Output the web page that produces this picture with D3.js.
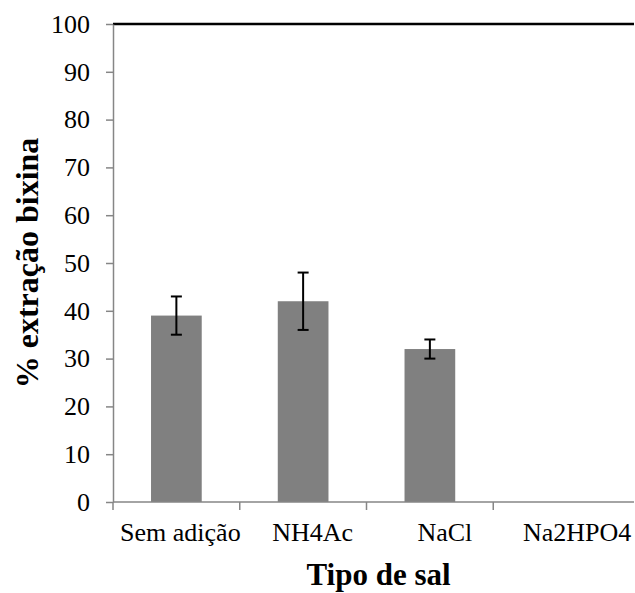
<!DOCTYPE html>
<html>
<head>
<meta charset="utf-8">
<script src="https://cdn.jsdelivr.net/npm/d3@7"></script>
<style>
  body { margin: 0; background: #fff; }
  text { font-family: "Liberation Serif", "Times New Roman", serif; }
</style>
</head>
<body>
<svg id="chart" width="635" height="593"></svg>
<script>
// data
var categories = ['Sem adição', 'NH4Ac', 'NaCl', 'Na2HPO4'];
var values = [39, 42, 32, 0];
var errors = [4, 6, 2, 0];
var yTicks = [0, 10, 20, 30, 40, 50, 60, 70, 80, 90, 100];

var svg = d3.select('#chart');
var margin = {top: 24, left: 113};
var width = 507, height = 478;
var axisColor = '#868686';

var g = svg.append('g')
    .attr('transform', 'translate(' + margin.left + ',' + margin.top + ')');

var x = d3.scaleBand()
    .domain(categories)
    .range([0, width])
    .padding(0);

var y = d3.scaleLinear()
    .domain([0, 100])
    .range([height, 0]);

var barW = x.bandwidth() * 0.4;

// bars
g.selectAll('rect.bar').data(categories)
    .enter()
    .append('rect')
        .attr('class', 'bar')
        .attr('x', function(d){ return x(d) + (x.bandwidth() - barW) / 2; })
        .attr('y', function(d, i){ return y(values[i]); })
        .attr('width', barW)
        .attr('height', function(d, i){ return y(0) - y(values[i]); })
        .attr('fill', '#808080');

// error bars
var capW = 11;
var eb = g.selectAll('g.err').data(categories.filter(function(d, i){ return values[i] > 0; }))
    .enter()
    .append('g')
        .attr('class', 'err')
        .attr('transform', function(d){ return 'translate(' + (x(d) + x.bandwidth() / 2) + ',0)'; });

eb.append('line')
    .attr('y1', function(d){ var i = categories.indexOf(d); return y(values[i] - errors[i]); })
    .attr('y2', function(d){ var i = categories.indexOf(d); return y(values[i] + errors[i]); });
eb.append('line')
    .attr('x1', -capW / 2).attr('x2', capW / 2)
    .attr('y1', function(d){ var i = categories.indexOf(d); return y(values[i] + errors[i]); })
    .attr('y2', function(d){ var i = categories.indexOf(d); return y(values[i] + errors[i]); });
eb.append('line')
    .attr('x1', -capW / 2).attr('x2', capW / 2)
    .attr('y1', function(d){ var i = categories.indexOf(d); return y(values[i] - errors[i]); })
    .attr('y2', function(d){ var i = categories.indexOf(d); return y(values[i] - errors[i]); });
eb.selectAll('line')
    .attr('stroke', '#000')
    .attr('stroke-width', 2);

// top line at 100
g.append('line')
    .attr('x1', 0).attr('x2', width + 14)
    .attr('y1', y(100)).attr('y2', y(100))
    .attr('stroke', '#000')
    .attr('stroke-width', 2.5);

// y axis
var yAxis = g.append('g')
    .call(d3.axisLeft(y).tickValues(yTicks).tickSize(7).tickPadding(16).tickSizeOuter(0));
yAxis.select('.domain').attr('stroke', axisColor).attr('stroke-width', 1.5);
yAxis.selectAll('.tick line').attr('stroke', axisColor).attr('stroke-width', 1.5);
yAxis.selectAll('text')
    .attr('font-family', '"Liberation Serif", serif')
    .attr('font-size', 26)
    .attr('fill', '#000');

// x axis
var xAxis = g.append('g')
    .attr('transform', 'translate(0,' + height + ')')
    .call(d3.axisBottom(x).tickSize(0).tickPadding(21).tickSizeOuter(0));
xAxis.select('.domain').remove();
xAxis.selectAll('text')
    .attr('font-family', '"Liberation Serif", serif')
    .attr('font-size', 26)
    .attr('fill', '#000')
    .attr('dx', function(d, i){ return 4 + i * 5.5; });

xAxis.append('line')
    .attr('x1', 0).attr('x2', width + 14)
    .attr('stroke', axisColor).attr('stroke-width', 1.5);

xAxis.selectAll('line.sep').data(categories)
    .enter()
    .append('line')
        .attr('class', 'sep')
        .attr('x1', function(d){ return x(d); })
        .attr('x2', function(d){ return x(d); })
        .attr('y1', 0).attr('y2', 8)
        .attr('stroke', axisColor).attr('stroke-width', 1.5);

// axis titles
svg.append('text')
    .attr('transform', 'translate(38,' + (margin.top + height / 2) + ') rotate(-90)')
    .attr('text-anchor', 'middle')
    .attr('font-size', 32)
    .attr('font-weight', 'bold')
    .text('% extração bixina');

svg.append('text')
    .attr('x', margin.left + width / 2 + 12)
    .attr('y', 585)
    .attr('text-anchor', 'middle')
    .attr('font-size', 31)
    .attr('font-weight', 'bold')
    .text('Tipo de sal');
</script>
</body>
</html>
